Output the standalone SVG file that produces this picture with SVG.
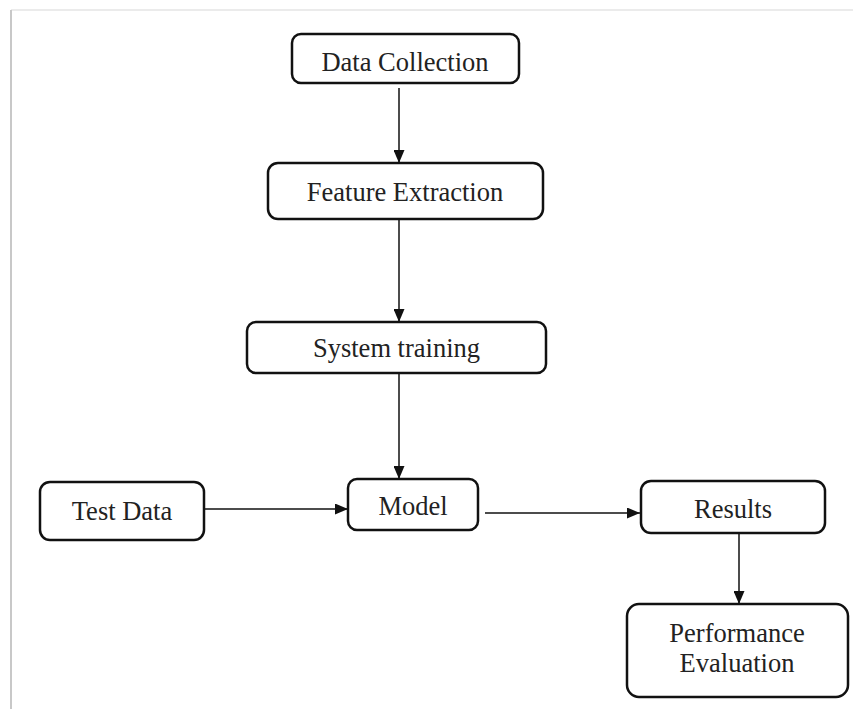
<svg xmlns="http://www.w3.org/2000/svg" width="853" height="709" viewBox="0 0 853 709">
<style>
.box{fill:#fff;stroke:#111;stroke-width:2.5}
.t{font-family:"Liberation Serif","Times New Roman",serif;font-size:26.5px;fill:#222;text-anchor:middle}
.c{stroke:#111;stroke-width:1.5;fill:none}
</style>
<defs>
<marker id="ah" viewBox="0 0 13 11" refX="13" refY="5.5" markerWidth="13" markerHeight="11" markerUnits="userSpaceOnUse" orient="auto">
<path d="M0,0 L13,5.5 L0,11 Z" fill="#111"/>
</marker>
</defs>
<rect width="853" height="709" fill="#fff"/>
<line x1="11" y1="10" x2="853" y2="10" stroke="#ebebeb" stroke-width="2"/>
<line x1="11" y1="10" x2="11" y2="709" stroke="#c8c8c8" stroke-width="2"/>
<g id="connectors">
<line class="c" x1="399" y1="88" x2="399" y2="163" marker-end="url(#ah)"/>
<line class="c" x1="399" y1="219" x2="399" y2="322" marker-end="url(#ah)"/>
<line class="c" x1="399" y1="373" x2="399" y2="479" marker-end="url(#ah)"/>
<line class="c" x1="205" y1="509" x2="348" y2="509" marker-end="url(#ah)"/>
<line class="c" x1="485" y1="513" x2="640" y2="513" marker-end="url(#ah)"/>
<line class="c" x1="739" y1="533" x2="739" y2="604" marker-end="url(#ah)"/>
</g>
<g id="data-collection">
<rect class="box" x="292" y="34" width="227" height="49" rx="9"/>
<text class="t" x="405" y="71">Data Collection</text>
</g>
<g id="feature-extraction">
<rect class="box" x="268" y="163" width="275" height="56" rx="10"/>
<text class="t" x="405" y="201">Feature Extraction</text>
</g>
<g id="system-training">
<rect class="box" x="247" y="322" width="299" height="51" rx="9"/>
<text class="t" x="396.5" y="357">System training</text>
</g>
<g id="test-data">
<rect class="box" x="40" y="482" width="164" height="58" rx="10"/>
<text class="t" x="122" y="520">Test Data</text>
</g>
<g id="model">
<rect class="box" x="348" y="479" width="130" height="51" rx="9"/>
<text class="t" x="413" y="515">Model</text>
</g>
<g id="results">
<rect class="box" x="641" y="481" width="184" height="52" rx="10"/>
<text class="t" x="733" y="518">Results</text>
</g>
<g id="performance-evaluation">
<rect class="box" x="627" y="604" width="221" height="93" rx="12"/>
<text class="t" x="737" y="642">Performance</text>
<text class="t" x="737" y="672">Evaluation</text>
</g>
</svg>
